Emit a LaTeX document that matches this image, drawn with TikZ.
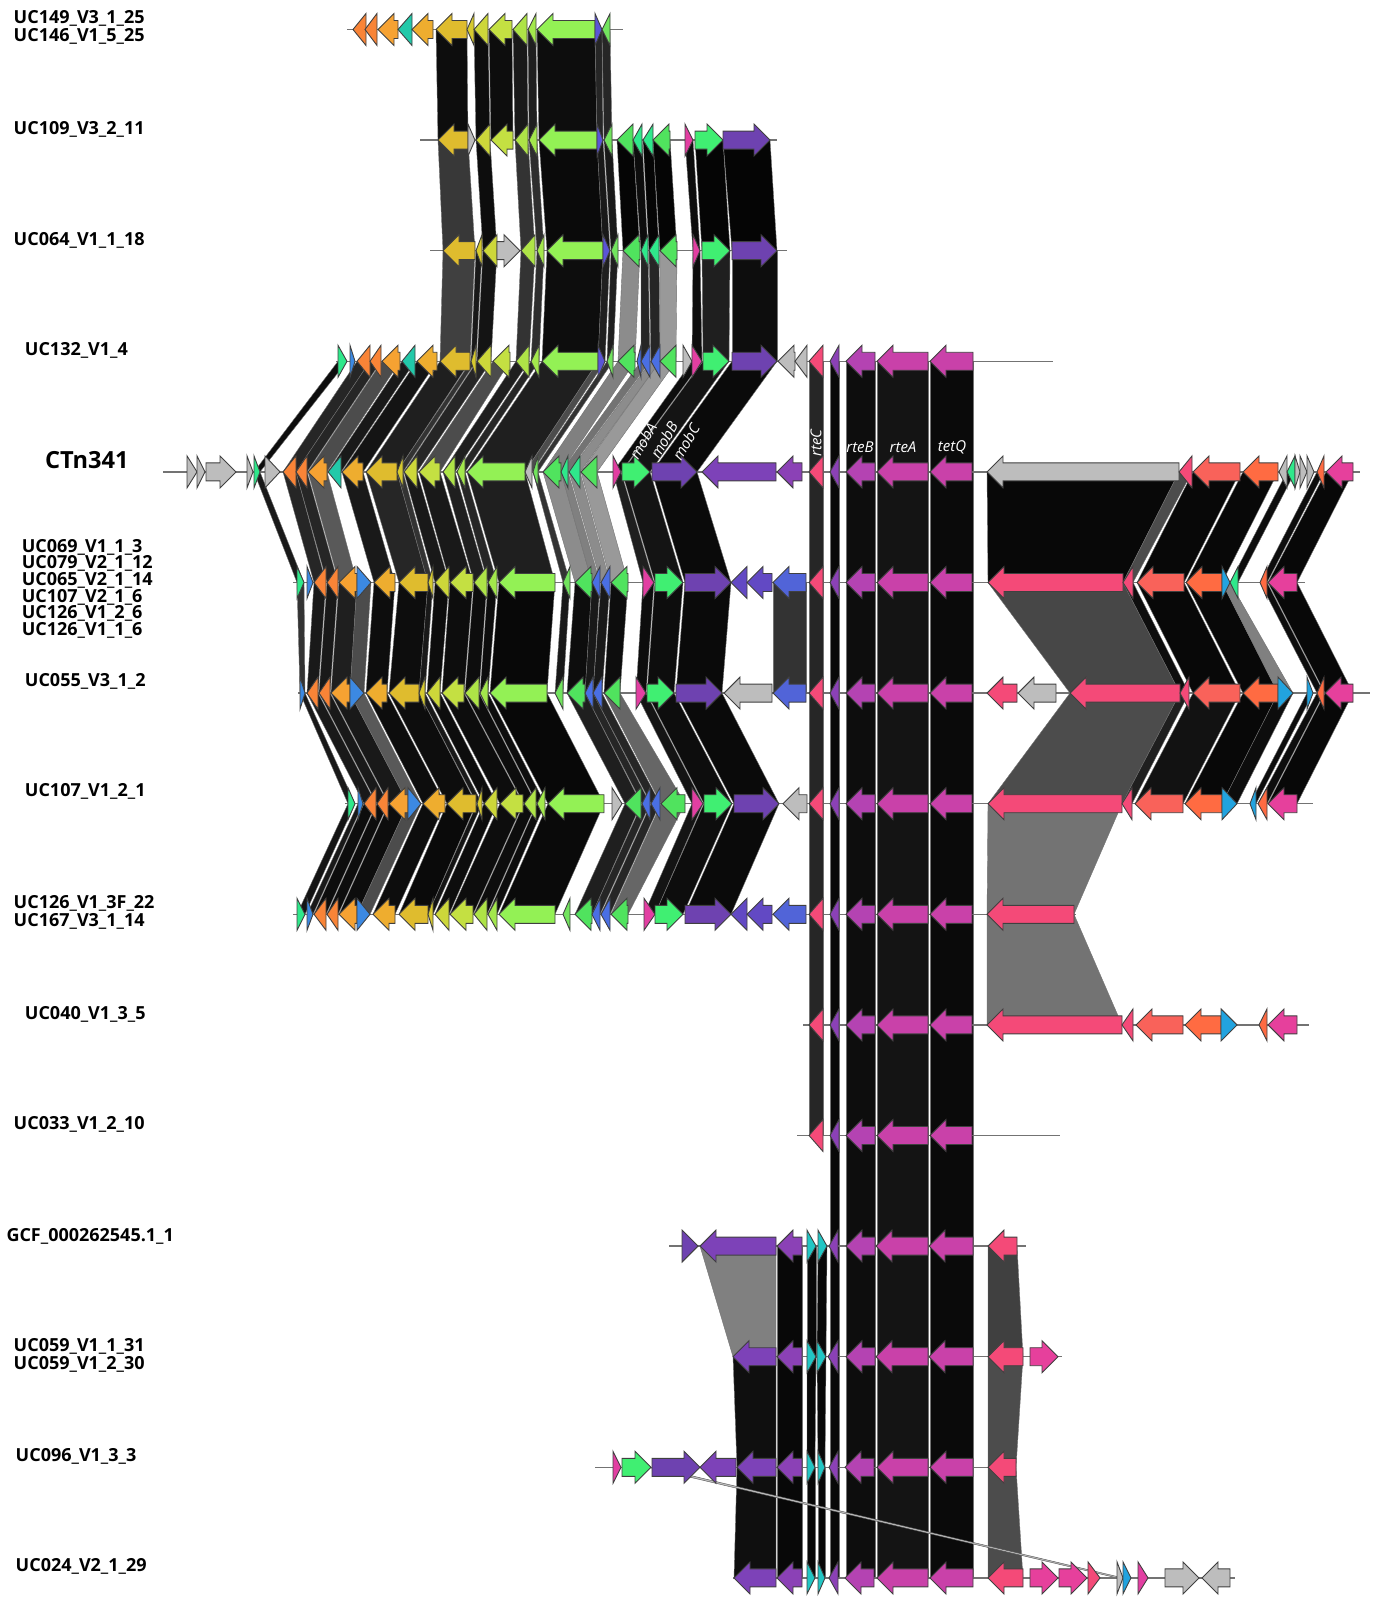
\documentclass[tikz,border=0pt]{standalone}
\usepackage{fontspec}
\setmainfont{Open Sans}
\usepackage{tikz}
\definecolor{cOr}{HTML}{F98437}
\definecolor{cOl}{HTML}{F6A232}
\definecolor{cTe}{HTML}{22C9A9}
\definecolor{cOy}{HTML}{EEAD2F}
\definecolor{cGo}{HTML}{DFBC2E}
\definecolor{cSy}{HTML}{D6CA2F}
\definecolor{cYg}{HTML}{CDD73A}
\definecolor{cYh}{HTML}{C4E042}
\definecolor{cLg}{HTML}{AEE447}
\definecolor{cLh}{HTML}{A3E84C}
\definecolor{cBr}{HTML}{93F155}
\definecolor{cVi}{HTML}{5B55D6}
\definecolor{cGs}{HTML}{72E45E}
\definecolor{cGr}{HTML}{50E35E}
\definecolor{cTg}{HTML}{2FE88B}
\definecolor{cMa}{HTML}{E23FA2}
\definecolor{cMg}{HTML}{40EF72}
\definecolor{cPu}{HTML}{6E42B0}
\definecolor{cPw}{HTML}{7D42B8}
\definecolor{cPv}{HTML}{8B41B6}
\definecolor{cRc}{HTML}{F44A78}
\definecolor{cRb}{HTML}{B443B2}
\definecolor{cRa}{HTML}{C941A9}
\definecolor{cGy}{HTML}{BDBDBD}
\definecolor{cBl}{HTML}{3C89E2}
\definecolor{cBm}{HTML}{4A6FE3}
\definecolor{cBn}{HTML}{5164D8}
\definecolor{cPb}{HTML}{6249C4}
\definecolor{cRo}{HTML}{F9625A}
\definecolor{cOs}{HTML}{FF6B42}
\definecolor{cCy}{HTML}{22A3DF}
\definecolor{cTq}{HTML}{22C6C4}
\definecolor{cPk}{HTML}{E6409C}
\tikzset{
  genearrow/.style={draw=black!75, line width=0.45pt, line join=miter},
  bandlink/.style={draw=black!55, line width=0.2pt},
  backbone/.style={draw=black!55, line width=0.7pt},
  rowlabel/.style={font=\fontsize{9}{9}\selectfont\bfseries, anchor=west, inner sep=0pt},
  genetag/.style={font=\fontsize{7.5}{7.5}\selectfont\itshape, text=white, inner sep=0pt},
}
% gene arrow: start, end, row y, colour, L/R
\newcommand\gene[5]{%
  \pgfmathsetmacro\headx{min(#2-#1,16)}%
  \if#5L%
    \filldraw[genearrow,fill=#4] (#1,#3) -- ({#1+\headx},{#3-16}) -- ({#1+\headx},{#3-9}) -- (#2,{#3-9}) -- (#2,{#3+9}) -- ({#1+\headx},{#3+9}) -- ({#1+\headx},{#3+16}) -- cycle;%
  \else%
    \filldraw[genearrow,fill=#4] (#2,#3) -- ({#2-\headx},{#3-16}) -- ({#2-\headx},{#3-9}) -- (#1,{#3-9}) -- (#1,{#3+9}) -- ({#2-\headx},{#3+9}) -- ({#2-\headx},{#3+16}) -- cycle;%
  \fi}
% link band between two rows
\newcommand\band[7]{%
  \filldraw[bandlink,fill=black!#7] (#1,#3) -- (#2,#3) -- (#5,#6) -- (#4,#6) -- cycle;}

\begin{document}
\begin{tikzpicture}[x=0.5pt,y=-0.5pt]
  \useasboundingbox (0,0) rectangle (1380,1598);

  % links
  \foreach \a/\b/\c/\d/\s in {436/467/438/468/95, 474/488/476/490/95, 489/512/491/513/95, 513/527/515/528/90, 528/536/529/537/88, 537/595/539/597/95, 595/602/597/603/85, 602/610/604/612/85}
    {\band{\a}{\b}{29.5}{\c}{\d}{140.1}{\s}}
  \foreach \a/\b/\c/\d/\s in {438/468/443/475/78, 476/490/483/497/95, 515/528/521/535/80, 529/537/537/544/82, 539/597/547/603/96, 597/603/603/610/90, 604/612/611/618/90, 617/633/623/640/98, 633/642/641/648/95, 643/653/649/659/98, 653/670/660/677/98, 685/693/693/700/95, 695/723/702/730/98, 723/770/732/777/98}
    {\band{\a}{\b}{140.1}{\c}{\d}{250.7}{\s}}
  \foreach \a/\b/\c/\d/\s in {443/475/440/470/75, 476/482/471/476/90, 483/497/477/491/92, 521/535/516/529/80, 537/544/531/539/82, 547/603/542/598/95, 603/610/598/605/88, 611/618/607/613/88, 623/640/618/635/45, 641/648/641/650/85, 649/659/651/660/85, 660/677/660/676/40, 693/700/692/702/95, 702/730/703/729/88, 732/777/732/777/95}
    {\band{\a}{\b}{250.7}{\c}{\d}{361.3}{\s}}
  \foreach \a/\b/\c/\d/\s in {338/347/254/260/95, 357/370/283/296/85, 370/381/296/307/85, 382/400/308/327/70, 402/415/328/341/90, 417/437/342/363/92, 440/470/366/397/88, 471/476/397/403/80, 477/491/404/417/85, 493/510/419/440/70, 516/529/443/455/88, 531/539/457/465/85, 542/598/467/525/88, 598/605/525/532/70, 607/613/533/538/80, 618/635/543/561/50, 641/650/561/568/55, 651/660/569/580/45, 660/676/581/597/40, 692/702/613/621/95, 703/729/622/650/92, 732/777/652/697/96}
    {\band{\a}{\b}{361.3}{\c}{\d}{471.9}{\s}}
  \foreach \a/\b/\c/\d/\s in {254/260/297/304/90, 283/296/314/326/85, 296/307/327/338/85, 308/327/339/357/65, 342/363/374/395/90, 366/397/399/428/85, 397/403/428/433/80, 404/417/435/449/90, 419/440/450/473/90, 443/455/474/487/88, 457/465/488/497/85, 467/525/499/555/88, 533/538/563/570/80, 543/561/575/592/45, 561/568/592/600/50, 569/580/601/610/45, 581/597/611/628/40, 613/621/643/654/88, 622/650/655/683/92, 652/697/685/731/96, 987/1179/988/1123/97, 1179/1192/1123/1133/70, 1193/1240/1137/1184/97, 1243/1278/1186/1222/97, 1287/1295/1230/1238/95, 1317/1324/1260/1267/95, 1326/1353/1268/1297/97}
    {\band{\a}{\b}{471.9}{\c}{\d}{582.5}{\s}}
  \foreach \a/\b/\c/\d/\s in {297/304/300/305/80, 314/326/307/318/90, 327/338/319/330/90, 339/357/331/350/88, 357/371/350/364/70, 374/395/366/387/95, 399/428/389/419/95, 428/433/419/425/90, 435/449/427/440/95, 450/473/442/464/95, 474/487/465/479/95, 488/497/480/488/95, 499/555/490/547/97, 563/570/555/563/90, 575/592/567/585/95, 592/600/585/593/90, 601/610/593/602/90, 611/628/604/620/95, 643/654/636/646/95, 655/683/647/674/95, 685/731/676/722/96, 773/806/773/806/80, 988/1123/1070/1180/72, 1123/1133/1180/1189/95, 1137/1184/1193/1240/97, 1186/1222/1243/1278/97, 1222/1230/1278/1293/50, 1260/1267/1317/1324/95, 1268/1297/1325/1353/97}
    {\band{\a}{\b}{582.5}{\c}{\d}{693.1}{\s}}
  \foreach \a/\b/\c/\d/\s in {300/305/348/355/90, 307/318/364/376/90, 319/330/377/388/90, 331/350/389/408/90, 350/364/408/421/65, 366/387/423/445/95, 389/419/447/476/95, 419/425/477/482/90, 427/440/484/497/95, 442/464/500/523/95, 465/479/524/536/95, 480/488/537/545/95, 490/547/548/604/97, 567/585/625/641/88, 585/593/642/650/85, 593/602/651/660/85, 604/620/661/685/60, 636/646/692/703/92, 647/674/704/732/95, 676/722/734/779/96, 1070/1180/988/1122/70, 1180/1189/1122/1132/88, 1193/1240/1135/1183/93, 1243/1278/1185/1222/97, 1278/1293/1222/1237/95, 1307/1313/1250/1256/95, 1317/1324/1258/1267/95, 1325/1353/1268/1297/97}
    {\band{\a}{\b}{693.1}{\c}{\d}{803.7}{\s}}
  \foreach \a/\b/\c/\d/\s in {348/355/297/305/92, 358/363/307/313/90, 364/376/314/326/95, 377/388/327/338/95, 389/408/339/357/95, 408/421/357/370/70, 423/445/373/395/95, 447/476/399/428/96, 477/482/428/433/92, 484/497/435/449/95, 500/523/450/473/95, 524/536/474/487/95, 537/545/488/497/95, 548/604/499/555/96, 625/641/575/592/88, 642/650/592/600/85, 651/660/601/610/85, 661/685/611/628/60, 692/703/644/655/92, 704/732/655/683/95, 734/779/685/731/96, 988/1122/987/1074/55}
    {\band{\a}{\b}{803.7}{\c}{\d}{914.3}{\s}}
  \band{987}{1074}{914.3}{987}{1122}{1024.9}{55}
  \foreach \a/\b/\c/\d/\s in {700/776/733/776/50, 777/802/777/802/97, 807/816/807/816/97, 818/827/817/826/97, 988/1017/988/1023/75}
    {\band{\a}{\b}{1246.1}{\c}{\d}{1356.7}{\s}}
  \foreach \a/\b/\c/\d/\s in {733/776/737/776/94, 777/802/777/802/97, 807/816/807/815/97, 817/826/818/825/97, 988/1023/988/1016/70}
    {\band{\a}{\b}{1356.7}{\c}{\d}{1467.3}{\s}}
  \foreach \a/\b/\c/\d/\s in {737/776/734/776/94, 777/802/777/802/97, 807/815/807/815/97, 818/825/818/825/97, 988/1016/988/1023/70}
    {\band{\a}{\b}{1467.3}{\c}{\d}{1577.9}{\s}}
  % rte / tetQ columns
  \foreach \a/\b/\ya/\yb/\s in {809/823/361.3/1135.5/85, 830/839/361.3/1577.9/97, 846/875/361.3/1577.9/95, 877/928/361.3/1577.9/92, 930/973/361.3/1577.9/96}
    {\filldraw[bandlink,fill=black!\s] (\a,\ya) rectangle (\b,\yb);}
  \filldraw[bandlink, draw=black!70, fill=black!25] (648,1467.3) -- (656,1467.3) -- (1123,1577.9) -- (1117,1577.9) -- cycle;

  % backbones
  \foreach \y/\s/\e in {29.5/347/623, 140.1/420/777, 250.7/430/787, 361.3/336/1053, 471.9/163/1360, 582.5/293/1305, 693.1/298/1370, 803.7/345/1313, 914.3/293/1076, 1024.9/803/1309, 1135.5/797/1060, 1246.1/669/1026, 1356.7/733/1062, 1467.3/595/1016, 1577.9/733/1235}
    {\draw[backbone] (\s,\y) -- (\e,\y);}

  % genes
  \foreach \a/\b/\c/\d in {353/366/cOr/L, 365/377/cOr/L, 378/398/cOl/L, 398/412/cTe/L, 412/433/cOy/L, 436/467/cGo/L, 467/474/cSy/L, 474/488/cYg/L, 489/512/cYh/L, 513/527/cLg/L, 528/536/cLh/L, 537/595/cBr/L, 595/602/cVi/R, 602/610/cGs/L}
    {\gene{\a}{\b}{29.5}{\c}{\d}}
  \foreach \a/\b/\c/\d in {438/468/cGo/L, 468/475/cGy/R, 476/490/cYg/L, 491/513/cYh/L, 515/528/cLg/L, 529/537/cLh/L, 539/597/cBr/L, 597/603/cVi/R, 604/612/cGs/L, 617/633/cGr/L, 633/642/cTg/L, 643/653/cTg/L, 653/670/cGr/L, 685/693/cMa/R, 695/723/cMg/R, 723/770/cPu/R}
    {\gene{\a}{\b}{140.1}{\c}{\d}}
  \foreach \a/\b/\c/\d in {443/475/cGo/L, 476/482/cSy/L, 483/497/cYg/L, 497/520/cGy/R, 521/535/cLg/L, 537/544/cLh/L, 547/603/cBr/L, 603/610/cVi/R, 611/618/cGs/L, 623/640/cGr/L, 641/648/cTg/L, 649/659/cTg/L, 660/677/cGr/L, 693/700/cMa/R, 702/730/cMg/R, 732/777/cPu/R}
    {\gene{\a}{\b}{250.7}{\c}{\d}}
  \foreach \a/\b/\c/\d in {338/347/cTg/R, 350/355/cBl/R, 357/370/cOr/L, 370/381/cOr/L, 382/400/cOl/L, 402/415/cTe/L, 417/437/cOy/L, 440/470/cGo/L, 471/476/cSy/L, 477/491/cYg/L, 493/510/cYh/L, 516/529/cLg/L, 531/539/cLh/L, 542/598/cBr/L, 598/605/cVi/R, 607/613/cGs/L, 618/635/cGr/L, 637/641/cBm/L, 641/650/cBm/L, 651/660/cBm/L, 660/676/cGr/L, 683/692/cGy/R, 692/702/cMa/R, 703/729/cMg/R, 732/777/cPu/R, 778/795/cGy/L, 795/807/cGy/L, 809/823/cRc/L, 830/839/cPv/L, 846/875/cRb/L, 877/928/cRa/L, 930/973/cRa/L}
    {\gene{\a}{\b}{361.3}{\c}{\d}}
  \foreach \a/\b/\c/\d in {187/197/cGy/R, 197/205/cGy/R, 206/236/cGy/R, 247/253/cGy/R, 254/260/cTg/R, 265/280/cGy/R, 283/296/cOr/L, 296/307/cOr/L, 308/327/cOl/L, 328/341/cTe/L, 342/363/cOy/L, 366/397/cGo/L, 397/403/cSy/L, 404/417/cYg/L, 419/440/cYh/L, 443/455/cLg/L, 457/465/cLh/L, 467/525/cBr/L, 525/532/cGy/L, 533/538/cGs/L, 543/561/cGr/L, 561/568/cTg/L, 569/580/cTg/L, 581/597/cGr/L, 613/621/cMa/R, 622/650/cMg/R, 652/697/cPu/R, 702/776/cPw/L, 777/802/cPv/L, 809/823/cRc/L, 830/839/cPv/L, 846/875/cRb/L, 877/928/cRa/L, 930/972/cRa/L, 987/1179/cGy/L, 1179/1192/cRc/L, 1193/1240/cRo/L, 1243/1278/cOs/L, 1279/1287/cGy/L, 1287/1295/cTg/L, 1295/1300/cGy/R, 1300/1307/cGy/R, 1307/1314/cGy/R, 1317/1324/cOs/L, 1326/1353/cPk/L}
    {\gene{\a}{\b}{471.9}{\c}{\d}}
  \foreach \a/\b/\c/\d in {297/304/cTg/R, 307/313/cBl/R, 314/326/cOr/L, 327/338/cOr/L, 339/357/cOl/L, 357/371/cBl/R, 374/395/cOy/L, 399/428/cGo/L, 428/433/cSy/L, 435/449/cYg/L, 450/473/cYh/L, 474/487/cLg/L, 488/497/cLh/L, 499/555/cBr/L, 563/570/cGs/L, 575/592/cGr/L, 592/600/cBm/L, 601/610/cBm/L, 611/628/cGr/L, 643/654/cMa/R, 655/683/cMg/R, 685/731/cPu/R, 731/747/cPb/L, 747/772/cPb/L, 773/806/cBn/L, 809/823/cRc/L, 830/839/cPv/L, 846/875/cRb/L, 877/928/cRa/L, 930/972/cRa/L, 988/1123/cRc/L, 1123/1133/cRc/L, 1137/1184/cRo/L, 1186/1222/cOs/L, 1222/1230/cCy/R, 1230/1238/cTg/L, 1260/1267/cOs/L, 1268/1297/cPk/L}
    {\gene{\a}{\b}{582.5}{\c}{\d}}
  \foreach \a/\b/\c/\d in {300/305/cBl/R, 307/318/cOr/L, 319/330/cOr/L, 331/350/cOl/L, 350/364/cBl/R, 366/387/cOy/L, 389/419/cGo/L, 419/425/cSy/L, 427/440/cYg/L, 442/464/cYh/L, 465/479/cLg/L, 480/488/cLh/L, 490/547/cBr/L, 555/563/cGs/L, 567/585/cGr/L, 585/593/cBm/L, 593/602/cBm/L, 604/620/cGr/L, 636/646/cMa/R, 647/674/cMg/R, 676/722/cPu/R, 724/772/cGy/L, 773/806/cBn/L, 809/823/cRc/L, 830/839/cPv/L, 846/875/cRb/L, 877/928/cRa/L, 930/972/cRa/L, 987/1017/cRc/L, 1018/1056/cGy/L, 1070/1180/cRc/L, 1180/1189/cRc/L, 1193/1240/cRo/L, 1243/1278/cOs/L, 1278/1293/cCy/R, 1307/1313/cCy/R, 1317/1324/cOs/L, 1325/1353/cPk/L}
    {\gene{\a}{\b}{693.1}{\c}{\d}}
  \foreach \a/\b/\c/\d in {348/355/cTg/R, 358/363/cBl/R, 364/376/cOr/L, 377/388/cOr/L, 389/408/cOl/L, 408/421/cBl/R, 423/445/cOy/L, 447/476/cGo/L, 477/482/cSy/L, 484/497/cYg/L, 500/523/cYh/L, 524/536/cLg/L, 537/545/cLh/L, 548/604/cBr/L, 612/622/cGy/R, 625/641/cGr/L, 642/650/cBm/L, 651/660/cBm/L, 661/685/cGr/L, 692/703/cMa/R, 704/732/cMg/R, 734/779/cPu/R, 783/807/cGy/L, 809/823/cRc/L, 830/839/cPv/L, 846/875/cRb/L, 877/928/cRa/L, 930/972/cRa/L, 988/1122/cRc/L, 1122/1132/cRc/L, 1135/1183/cRo/L, 1185/1222/cOs/L, 1222/1237/cCy/R, 1250/1256/cCy/L, 1258/1267/cOs/L, 1268/1297/cPk/L}
    {\gene{\a}{\b}{803.7}{\c}{\d}}
  \foreach \a/\b/\c/\d in {297/305/cTg/R, 307/313/cBl/R, 314/326/cOr/L, 327/338/cOr/L, 339/357/cOl/L, 357/370/cBl/R, 373/395/cOy/L, 399/428/cGo/L, 428/433/cSy/L, 435/449/cYg/L, 450/473/cYh/L, 474/487/cLg/L, 488/497/cLh/L, 499/555/cBr/L, 563/570/cGs/L, 575/592/cGr/L, 592/600/cBm/L, 601/610/cBm/L, 611/628/cGr/L, 644/655/cMa/R, 655/683/cMg/R, 685/731/cPu/R, 731/747/cPb/L, 747/772/cPb/L, 773/806/cBn/L, 809/823/cRc/L, 830/839/cPv/L, 846/875/cRb/L, 877/928/cRa/L, 930/972/cRa/L, 987/1074/cRc/L}
    {\gene{\a}{\b}{914.3}{\c}{\d}}
  \foreach \a/\b/\c/\d in {809/823/cRc/L, 830/839/cPv/L, 846/875/cRb/L, 877/928/cRa/L, 930/972/cRa/L, 987/1122/cRc/L, 1122/1133/cRc/L, 1136/1183/cRo/L, 1185/1221/cOs/L, 1221/1237/cCy/R, 1259/1267/cOs/L, 1268/1297/cPk/L}
    {\gene{\a}{\b}{1024.9}{\c}{\d}}
  \foreach \a/\b/\c/\d in {809/823/cRc/L, 830/839/cPv/L, 846/875/cRb/L, 877/928/cRa/L, 930/972/cRa/L}
    {\gene{\a}{\b}{1135.5}{\c}{\d}}
  \foreach \a/\b/\c/\d in {682/698/cPu/R, 700/776/cPw/L, 777/802/cPv/L, 807/816/cTq/R, 818/827/cTq/R, 829/838/cPv/L, 846/875/cRb/L, 876/928/cRa/L, 929/973/cRa/L, 988/1017/cRc/L}
    {\gene{\a}{\b}{1246.1}{\c}{\d}}
  \foreach \a/\b/\c/\d in {733/776/cPw/L, 777/802/cPv/L, 807/816/cTq/R, 817/826/cTq/R, 828/838/cPv/L, 846/875/cRb/L, 876/928/cRa/L, 929/973/cRa/L, 988/1023/cRc/L, 1030/1058/cPk/R}
    {\gene{\a}{\b}{1356.7}{\c}{\d}}
  \foreach \a/\b/\c/\d in {613/621/cMa/R, 622/651/cMg/R, 652/700/cPu/R, 700/736/cPw/L, 737/776/cPw/L, 777/802/cPv/L, 807/815/cTq/R, 818/825/cTq/R, 829/838/cPv/L, 845/874/cRb/L, 877/928/cRa/L, 930/973/cRa/L, 988/1016/cRc/L}
    {\gene{\a}{\b}{1467.3}{\c}{\d}}
  \foreach \a/\b/\c/\d in {734/776/cPw/L, 777/802/cPv/L, 807/815/cTq/R, 818/825/cTq/R, 829/838/cPv/L, 845/874/cRb/L, 877/928/cRa/L, 930/973/cRa/L, 988/1023/cRc/L, 1030/1058/cPk/R, 1059/1087/cPk/R, 1088/1100/cRc/R, 1117/1123/cGy/R, 1123/1131/cCy/R, 1138/1148/cMa/R, 1165/1199/cGy/R, 1202/1230/cGy/L}
    {\gene{\a}{\b}{1577.9}{\c}{\d}}

  % gene names
  \node[genetag, rotate=60] (mobA) at (643,441) {mobA};
  \node[genetag, rotate=60] (mobB) at (664,440) {mobB};
  \node[genetag, rotate=60] (mobC) at (686,442) {mobC};
  \node[genetag, rotate=90] (rteC) at (816,443) {rteC};
  \node[genetag] (rteB) at (860,447) {rteB};
  \node[genetag] (rteA) at (903,447) {rteA};
  \node[genetag] (tetQ) at (952,447) {tetQ};

  % row names
  \node[rowlabel] (r0a) at (13.3,18.6) {UC149\_V3\_1\_25};
  \node[rowlabel] (r0b) at (13.3,36.7) {UC146\_V1\_5\_25};
  \node[rowlabel] (r1) at (13.3,129.4) {UC109\_V3\_2\_11};
  \node[rowlabel] (r2) at (13.3,240.5) {UC064\_V1\_1\_18};
  \node[rowlabel] (r3) at (24.5,350.5) {UC132\_V1\_4};
  \node[rowlabel, font=\fontsize{11.8}{12}\selectfont\bfseries] (r4) at (44.8,459.6) {CTn341};
  \node[rowlabel] (r5a) at (21.4,547.2) {UC069\_V1\_1\_3};
  \node[rowlabel] (r5b) at (21.4,563.5) {UC079\_V2\_1\_12};
  \node[rowlabel] (r5c) at (21.4,580.8) {UC065\_V2\_1\_14};
  \node[rowlabel] (r5d) at (21.4,597.1) {UC107\_V2\_1\_6};
  \node[rowlabel] (r5e) at (21.4,613.4) {UC126\_V1\_2\_6};
  \node[rowlabel] (r5f) at (21.4,630.7) {UC126\_V1\_1\_6};
  \node[rowlabel] (r6) at (24.5,681.7) {UC055\_V3\_1\_2};
  \node[rowlabel] (r7) at (24.5,791.8) {UC107\_V1\_2\_1};
  \node[rowlabel] (r8a) at (13.3,903.9) {UC126\_V1\_3F\_22};
  \node[rowlabel] (r8b) at (13.3,921.2) {UC167\_V3\_1\_14};
  \node[rowlabel] (r9) at (24.5,1014) {UC040\_V1\_3\_5};
  \node[rowlabel] (r10) at (13.3,1124) {UC033\_V1\_2\_10};
  \node[rowlabel] (r11) at (6.1,1236) {GCF\_000262545.1\_1};
  \node[rowlabel] (r12a) at (13.3,1346) {UC059\_V1\_1\_31};
  \node[rowlabel] (r12b) at (13.3,1364.5) {UC059\_V1\_2\_30};
  \node[rowlabel] (r13) at (15.3,1456) {UC096\_V1\_3\_3};
  \node[rowlabel] (r14) at (15.3,1566) {UC024\_V2\_1\_29};
\end{tikzpicture}
\end{document}
